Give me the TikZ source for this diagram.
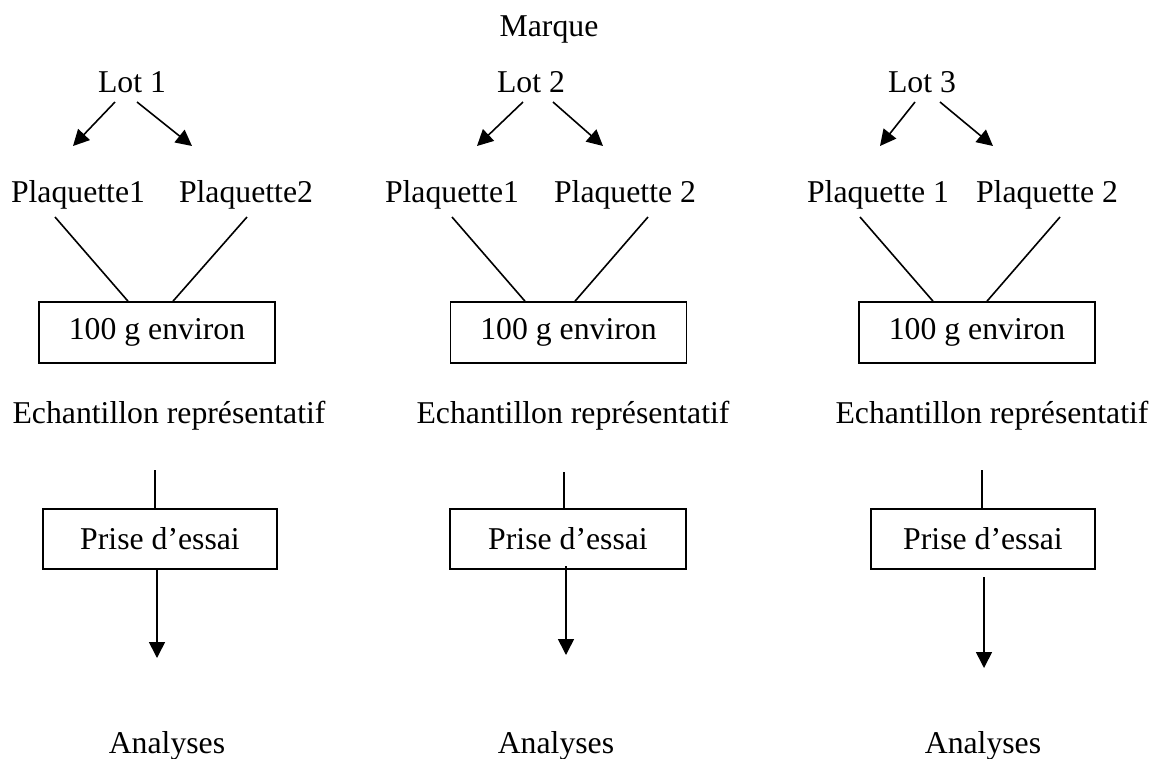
\documentclass[tikz,border=0pt]{standalone}
\usepackage{fontspec}
\setmainfont{Liberation Serif}
\usetikzlibrary{arrows.meta,calc}
\begin{document}
\begin{tikzpicture}[x=0.75pt,y=-0.75pt,
  every node/.style={font=\fontsize{23.8}{28}\selectfont},
  txt/.style={inner sep=0pt, anchor=base},
  box/.style={draw, line width=1.2pt, inner sep=0pt},
  ln/.style={line width=1.2pt},
  arr/.style={line width=1.2pt, -{Triangle[length=12pt,width=12pt]}}]
\useasboundingbox (0,0) rectangle (1154,758);

% top texts
\node[txt] (marque) at (549,36) {Marque};
\node[txt] (lot1) at (132,92) {Lot 1};
\node[txt] (lot2) at (531,92) {Lot 2};
\node[txt] (lot3) at (922,92) {Lot 3};
\node[txt] (p11) at (78,202) {Plaquette1};
\node[txt] (p12) at (246,202) {Plaquette2};
\node[txt] (p21) at (452,202) {Plaquette1};
\node[txt] (p22) at (625,202) {Plaquette 2};
\node[txt] (p31) at (878,202) {Plaquette 1};
\node[txt] (p32) at (1047,202) {Plaquette 2};

% boxes
\node[box, minimum width=177pt, minimum height=45.75pt] (b1) at (157,332.5) {100 g environ};
\node[box, minimum width=177pt, minimum height=45.75pt] (b2) at (568.5,332.5) {100 g environ};
\node[box, minimum width=177pt, minimum height=45.75pt] (b3) at (977,332.5) {100 g environ};

\node[txt] (e1) at (169,423) {Echantillon représentatif};
\node[txt] (e2) at (573,423) {Echantillon représentatif};
\node[txt] (e3) at (992,423) {Echantillon représentatif};

\node[box, minimum width=175.5pt, minimum height=45pt] (pe1) at (160,539) {Prise d’essai};
\node[box, minimum width=177pt, minimum height=45pt] (pe2) at (568,539) {Prise d’essai};
\node[box, minimum width=168pt, minimum height=45pt] (pe3) at (983,539) {Prise d’essai};

\node[txt] (a1) at (167,753) {Analyses};
\node[txt] (a2) at (556,753) {Analyses};
\node[txt] (a3) at (983,753) {Analyses};

% coordinates for free ends
\coordinate (l1a) at (115,102); \coordinate (l1b) at (73,146);
\coordinate (l1c) at (137,102); \coordinate (l1d) at (192,146);
\coordinate (l2a) at (523,102); \coordinate (l2b) at (477,146);
\coordinate (l2c) at (553,102); \coordinate (l2d) at (603,146);
\coordinate (l3a) at (915,102); \coordinate (l3b) at (880,146);
\coordinate (l3c) at (940,102); \coordinate (l3d) at (993,146);

\draw[arr] (l1a) -- (l1b);
\draw[arr] (l1c) -- (l1d);
\draw[arr] (l2a) -- (l2b);
\draw[arr] (l2c) -- (l2d);
\draw[arr] (l3a) -- (l3b);
\draw[arr] (l3c) -- (l3d);

% plaquettes to boxes
\coordinate (s11) at (55,217);  \coordinate (s12) at (247,217);
\coordinate (s21) at (452,217); \coordinate (s22) at (648,217);
\coordinate (s31) at (860,217); \coordinate (s32) at (1060,217);
\draw[ln] (s11) -- ($(b1.north)+(-29,0)$);
\draw[ln] (s12) -- ($(b1.north)+(16,0)$);
\draw[ln] (s21) -- ($(b2.north)+(-43.5,0)$);
\draw[ln] (s22) -- ($(b2.north)+(6.5,0)$);
\draw[ln] (s31) -- ($(b3.north)+(-44,0)$);
\draw[ln] (s32) -- ($(b3.north)+(10,0)$);

% verticals above Prise d'essai
\coordinate (v1) at (155,470);
\coordinate (v2) at (564,472);
\coordinate (v3) at (982,470);
\draw[ln] (v1) -- (v1 |- pe1.north);
\draw[ln] (v2) -- (v2 |- pe2.north);
\draw[ln] (v3) -- (v3 |- pe3.north);

% arrows down
\coordinate (t1) at (157,658);
\coordinate (t2a) at (566,566); \coordinate (t2) at (566,655);
\coordinate (t3a) at (984,577); \coordinate (t3) at (984,668);
\draw[arr] (t1 |- pe1.south) -- (t1);
\draw[arr] (t2a) -- (t2);
\draw[arr] (t3a) -- (t3);
\end{tikzpicture}
\end{document}
